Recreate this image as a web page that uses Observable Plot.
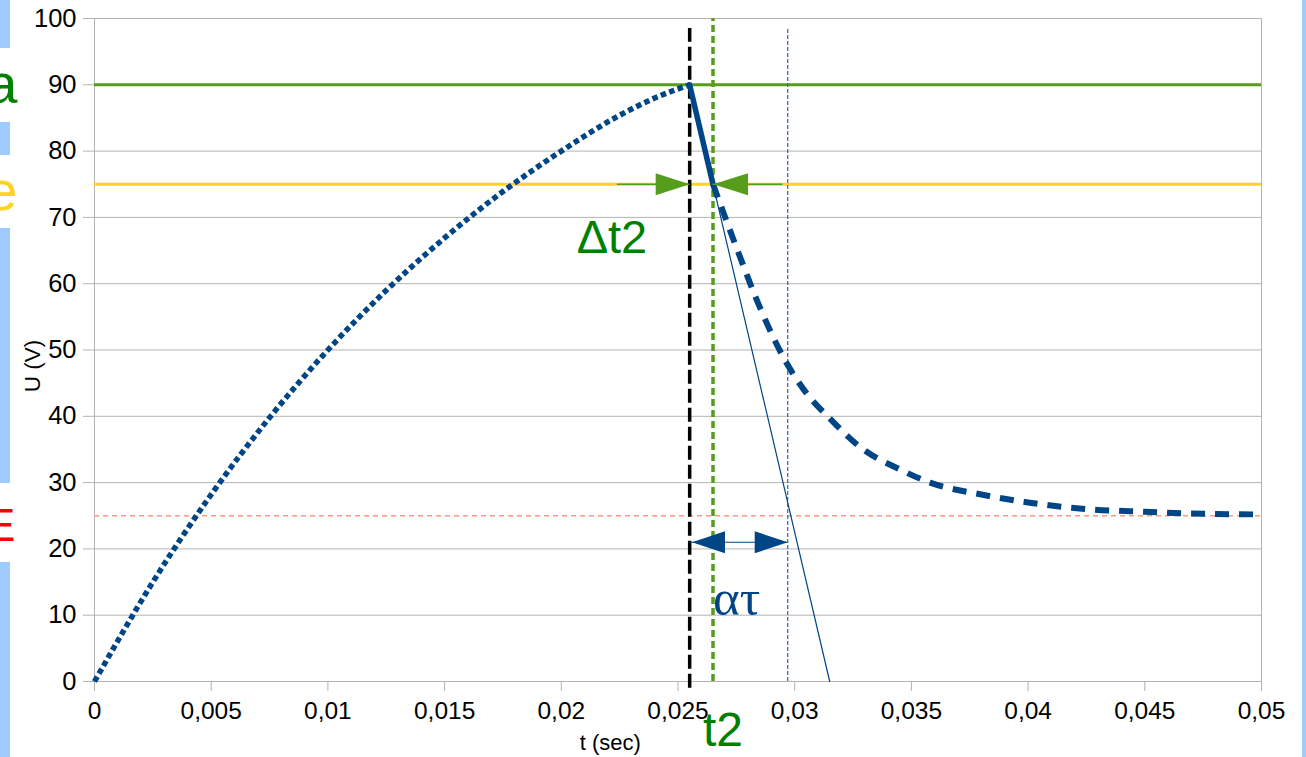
<!DOCTYPE html>
<html>
<head>
<meta charset="utf-8">
<script src="https://cdn.jsdelivr.net/npm/d3@7"></script>
<script src="https://cdn.jsdelivr.net/npm/@observablehq/plot@0.6"></script>
<style>
  html, body { margin: 0; padding: 0; background: #fff; }
  #wrap { position: relative; width: 1306px; height: 757px; overflow: hidden; background: #fff; }
  #wrap svg { position: absolute; left: 0; top: 0; background: transparent; }
  .bar { position: absolute; background: #9ecbff; }
  [aria-label="y-axis tick"] path, [aria-label="x-axis tick"] path { stroke: #b3b3b3; }
</style>
</head>
<body>
<div id="wrap">
  <div class="bar" style="left:0;width:10px;top:0;height:48px"></div>
  <div class="bar" style="left:0;width:10px;top:122px;height:33px"></div>
  <div class="bar" style="left:0;width:10px;top:228px;height:255px"></div>
  <div class="bar" style="left:0;width:10px;top:562px;height:195px"></div>
  <div class="bar" style="left:1302px;width:4px;top:0;height:757px"></div>
</div>
<script>
// ---- data ----
const xTicks = [0, 0.005, 0.01, 0.015, 0.02, 0.025, 0.03, 0.035, 0.04, 0.045, 0.05];
const xTickLabels = ["0", "0,005", "0,01", "0,015", "0,02", "0,025", "0,03", "0,035", "0,04", "0,045", "0,05"];
const yTicks = [0, 10, 20, 30, 40, 50, 60, 70, 80, 90, 100];

const chargeT = [0, 0.0025, 0.005, 0.0075, 0.01, 0.0125, 0.015, 0.0175, 0.02, 0.0225, 0.024, 0.0255];
const chargeU = [0, 15, 28.2, 39.8, 50, 59, 66.9, 73.9, 80, 85.4, 88, 90];

const dischargeT = [0.0265, 0.0275, 0.0285, 0.0295, 0.0305, 0.0315, 0.0329, 0.0345, 0.0358, 0.038, 0.04, 0.0425, 0.045, 0.0475, 0.05];
const dischargeU = [75, 65.5, 56.5, 49, 43.5, 39.7, 35.1, 32, 30, 28.2, 27, 26, 25.6, 25.3, 25.2];

const levelA = 90;   // green level
const levelE2 = 75;  // yellow level
const levelE = 25;   // red level
const tOff = 0.0255; // switching instant (black dashed)
const t2 = 0.0265;   // green dotted
const tTau = 0.0297; // end of alpha-tau span
const tTangentZero = 0.0315; // tangent reaches 0
const arrowU = 21;   // height of alpha-tau arrow
const shaftLeftStart = 0.0224;
const shaftRightEnd = 0.0295;

const navy = "#004586";
const green = "#579d1c";
const textGreen = "#008000";
const yellow = "#ffd320";
const salmon = "#ff9a80";
const gray = "#b3b3b3";

const charge = chargeT.map((t, i) => ({t, u: chargeU[i]}));
const discharge = dischargeT.map((t, i) => ({t, u: dischargeU[i]}));
const solidSeg = [{t: tOff, u: levelA}, {t: t2, u: levelE2}];
const tangent = [{t: tOff, u: levelA}, {t: tTangentZero, u: 0}];

const head = (len, half) => ({
  draw(ctx) { ctx.moveTo(0, 0); ctx.lineTo(-len, -half); ctx.lineTo(-len, half); ctx.closePath(); }
});

const font = "'Liberation Sans', Arial, sans-serif";

const chart = Plot.plot({
  width: 1306,
  height: 757,
  marginLeft: 94,
  marginRight: 45,
  marginTop: 18,
  marginBottom: 76,
  style: {fontFamily: font, background: "transparent", color: "#000"},
  x: {domain: [0, 0.05]},
  y: {domain: [0, 100]},
  marks: [
    Plot.gridY(yTicks, {stroke: gray, strokeOpacity: 1, strokeWidth: 1}),
    Plot.ruleX([0.05], {stroke: gray, strokeWidth: 1}),
    Plot.ruleX([0], {stroke: gray, strokeWidth: 1}),
    Plot.axisY(yTicks, {tickSize: 11, tickPadding: 7, fontSize: 25.5, tickFormat: d => String(d), label: null}),
    Plot.axisX(xTicks, {tickSize: 10, tickPadding: 10, fontSize: 24.5, tickFormat: (d, i) => xTickLabels[i], label: null}),
    // horizontal levels
    Plot.ruleY([levelE], {stroke: salmon, strokeWidth: 1.3, strokeDasharray: "5,4"}),
    Plot.ruleY([levelA], {stroke: green, strokeWidth: 3}),
    Plot.ruleY([levelE2], {stroke: yellow, strokeWidth: 3}),
    // vertical markers
    Plot.ruleX([tTau], {y1: 0, y2: 98.5, stroke: "#3465a4", strokeWidth: 1.2, strokeDasharray: "4,2"}),
    Plot.ruleX([t2], {y1: 0, y2: 100, stroke: green, strokeWidth: 3.5, strokeDasharray: "7,4"}),
    Plot.ruleX([tOff], {y1: -1, y2: 98.5, stroke: "#000", strokeWidth: 3.5, strokeDasharray: "14,5"}),
    // curves
    Plot.line(tangent, {x: "t", y: "u", stroke: navy, strokeWidth: 1.2}),
    Plot.line(charge, {x: "t", y: "u", stroke: navy, strokeWidth: 5.5, strokeDasharray: "5.5,3.5", curve: "monotone-x", strokeLinecap: "butt"}),
    Plot.line(discharge, {x: "t", y: "u", stroke: navy, strokeWidth: 6, strokeDasharray: "14,10", curve: "monotone-x", strokeLinecap: "butt"}),
    Plot.line(solidSeg, {x: "t", y: "u", stroke: navy, strokeWidth: 5.5}),
    // green delta arrows
    Plot.ruleY([levelE2], {x1: shaftLeftStart, x2: tOff, stroke: green, strokeWidth: 1.5}),
    Plot.ruleY([levelE2], {x1: t2, x2: shaftRightEnd, stroke: green, strokeWidth: 1.5}),
    Plot.dot([{t: tOff, u: levelE2}], {x: "t", y: "u", symbol: head(34, 11), rotate: 0, fill: green, stroke: "none"}),
    Plot.dot([{t: t2, u: levelE2}], {x: "t", y: "u", symbol: head(35, 11), rotate: 180, fill: green, stroke: "none"}),
    // alpha tau arrow
    Plot.ruleY([arrowU], {x1: tOff, x2: tTau, stroke: navy, strokeWidth: 1}),
    Plot.dot([{t: tOff + 0.0001, u: arrowU}], {x: "t", y: "u", symbol: head(33, 11), rotate: 180, fill: navy, stroke: "none"}),
    Plot.dot([{t: tTau, u: arrowU}], {x: "t", y: "u", symbol: head(33, 11), rotate: 0, fill: navy, stroke: "none"}),
    // annotations
    Plot.text(["Δt2"], {x: 0.02217, y: 64.6, text: d => d, fill: textGreen, fontSize: 47, textAnchor: "middle", lineAnchor: "bottom"}),
    Plot.text(["ατ"], {x: 0.0265, y: 10, text: d => d, fill: navy, fontSize: 51, fontFamily: "'Liberation Serif', serif", textAnchor: "start", lineAnchor: "bottom"}),
    Plot.text(["t2"], {x: 0.02607, y: -9.7, text: d => d, fill: textGreen, fontSize: 48, textAnchor: "start", lineAnchor: "bottom"}),
    Plot.text(["t (sec)"], {x: 0.0221, y: -10.3, text: d => d, fill: "#000", fontSize: 22, textAnchor: "middle", lineAnchor: "bottom"}),
    Plot.text(["U (V)"], {frameAnchor: "left", y: 47.6, dx: -62, text: d => d, fill: "#000", fontSize: 22.5, rotate: -90, textAnchor: "middle", lineAnchor: "middle"}),
    // cut-off labels at left edge
    Plot.text(["a"], {frameAnchor: "left", y: levelA, dx: -77, dy: 18.5, text: d => d, fill: textGreen, fontSize: 56, textAnchor: "end", lineAnchor: "bottom"}),
    Plot.text(["e"], {frameAnchor: "left", y: levelE2, dx: -77, dy: 26, text: d => d, fill: yellow, fontSize: 56, textAnchor: "end", lineAnchor: "bottom"}),
    Plot.text(["E"], {frameAnchor: "left", y: levelE, dx: -79, dy: 25, text: d => d, fill: "#ff0000", fontSize: 46, textAnchor: "end", lineAnchor: "bottom"})
  ]
});
document.getElementById("wrap").appendChild(chart);
</script>
</body>
</html>
